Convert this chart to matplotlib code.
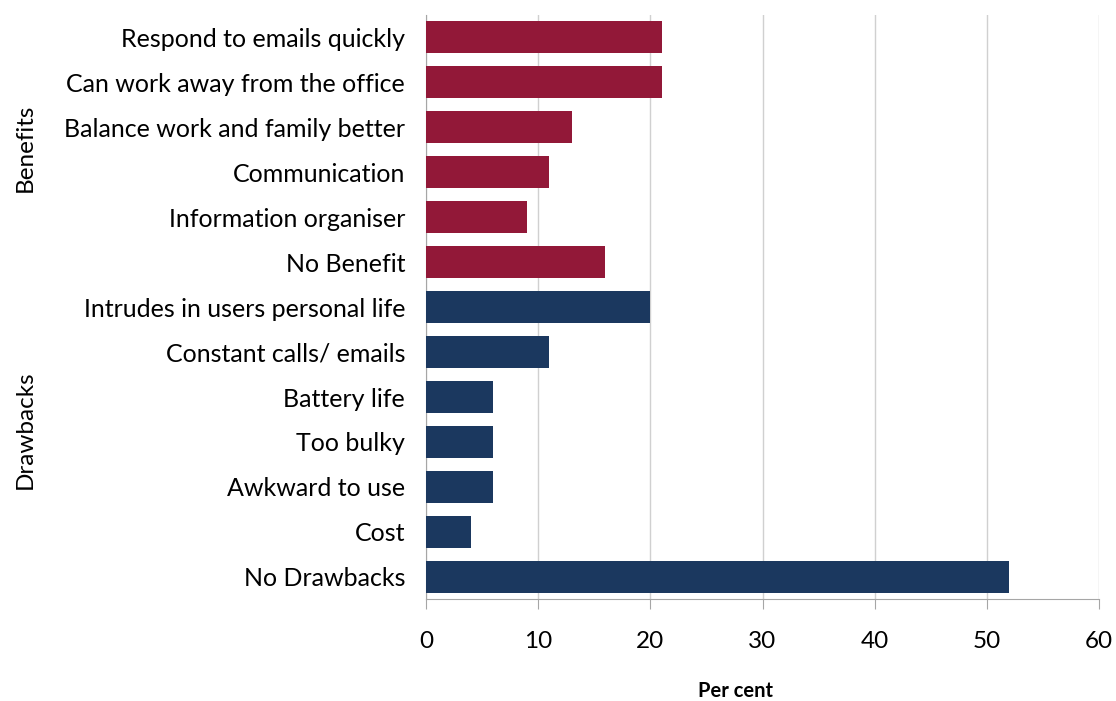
import matplotlib
matplotlib.use("Agg")
import matplotlib.pyplot as plt

categories = ["Respond to emails quickly", "Can work away from the office",
              "Balance work and family better", "Communication",
              "Information organiser", "No Benefit",
              "Intrudes in users personal life", "Constant calls/ emails",
              "Battery life", "Too bulky", "Awkward to use", "Cost", "No Drawbacks"]
values = [21, 21, 13, 11, 9, 16, 20, 11, 6, 6, 6, 4, 52]
groups = ["Benefits"] * 6 + ["Drawbacks"] * 7
group_colors = {"Benefits": "#921838", "Drawbacks": "#1b385f"}
xticks = [0, 10, 20, 30, 40, 50, 60]

plt.rcParams['font.family'] = ['Lato', 'DejaVu Sans']

fig = plt.figure(figsize=(11.16, 7.01), dpi=100)
ax = fig.add_axes([0.3817, 0.1448, 0.6031, 0.8345])

ypos = list(range(len(categories)))
colors = [group_colors[g] for g in groups]
ax.barh(ypos, values, height=0.69, color=colors, zorder=3)
ax.set_ylim(len(categories) - 0.5, -0.5)
ax.set_xlim(0, 60)
ax.set_xticks(xticks)
ax.set_xticklabels([str(t) for t in xticks], fontsize=17.5)
ax.set_yticks(ypos)
ax.set_yticklabels(categories, fontsize=18)
ax.tick_params(axis='y', length=0, pad=15)
ax.tick_params(axis='x', length=7, color='#a6a6a6', pad=16, direction='out')
ax.grid(axis='x', color='#d0d0d0', linewidth=1, zorder=0)
for s in ['top', 'right']:
    ax.spines[s].set_visible(False)
ax.spines['left'].set_color('#a6a6a6')
ax.spines['bottom'].set_color('#a6a6a6')

fig.text(735 / 1116, 1 - 691 / 701, "Per cent", ha='center', va='center',
         fontsize=14.5, fontweight='bold')

bx = 25 / 1116
fig.text(bx, 1 - 148 / 701, "Benefits", rotation=90, ha='center', va='center', fontsize=17.5)
fig.text(bx, 1 - 430 / 701, "Drawbacks", rotation=90, ha='center', va='center', fontsize=17.5)

fig.savefig("out.png", dpi=100)
